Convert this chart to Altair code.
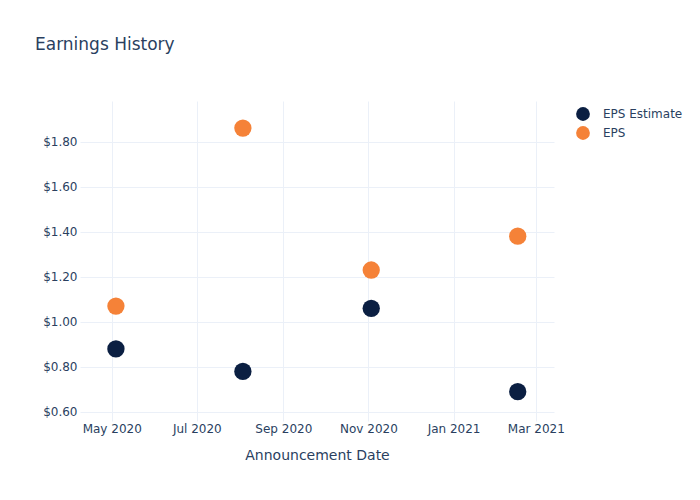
import altair as alt
import pandas as pd

dates = ["2020-05-04", "2020-08-03", "2020-11-03", "2021-02-16"]
eps_estimate = [0.88, 0.78, 1.06, 0.69]
eps_actual = [1.07, 1.86, 1.23, 1.38]
series_names = ["EPS Estimate", "EPS"]
series_colors = ["#0b1f42", "#f58238"]

rows = []
for d, v in zip(dates, eps_estimate):
    rows.append({"date": d, "value": v, "series": "EPS Estimate"})
for d, v in zip(dates, eps_actual):
    rows.append({"date": d, "value": v, "series": "EPS"})
df = pd.DataFrame(rows)

FONT = "DejaVu Sans"
TXT = "#2a3f5f"
GRID = "#ebf0f8"

x_ticks = [
    alt.DateTime(year=2020, month=5, date=1, utc=True),
    alt.DateTime(year=2020, month=7, date=1, utc=True),
    alt.DateTime(year=2020, month=9, date=1, utc=True),
    alt.DateTime(year=2020, month=11, date=1, utc=True),
    alt.DateTime(year=2021, month=1, date=1, utc=True),
    alt.DateTime(year=2021, month=3, date=1, utc=True),
]
y_ticks = [0.6, 0.8, 1.0, 1.2, 1.4, 1.6, 1.8]

chart = (
    alt.Chart(df)
    .mark_circle(size=300, opacity=1)
    .encode(
        x=alt.X(
            "date:T",
            title="Announcement Date",
            scale=alt.Scale(
                type="utc",
                domain=[
                    alt.DateTime(year=2020, month=4, date=8, hours=6, utc=True),
                    alt.DateTime(year=2021, month=3, date=14, utc=True),
                ],
            ),
            axis=alt.Axis(
                values=x_ticks,
                labelExpr="utcFormat(datum.value, '%b %Y')",
                labelPadding=2,
                titlePadding=14,
            ),
        ),
        y=alt.Y(
            "value:Q",
            title=None,
            scale=alt.Scale(domain=[0.56, 1.98], nice=False, zero=False),
            axis=alt.Axis(values=y_ticks, format="$.2f", labelPadding=3),
        ),
        color=alt.Color(
            "series:N",
            scale=alt.Scale(domain=series_names, range=series_colors),
            legend=alt.Legend(
                title=None,
                orient="none",
                legendX=495,
                legendY=5,
                symbolType="circle",
                symbolSize=190,
                symbolOpacity=1,
                labelFontSize=12,
                labelColor=TXT,
                labelFont=FONT,
                labelOffset=12,
                rowPadding=4,
                padding=0,
            ),
        ),
        order=alt.Order("series:N", sort="descending"),
    )
    .properties(
        width=474,
        height=320,
        autosize=alt.AutoSizeParams(type="none"),
        padding={"left": 80, "top": 101, "right": 146, "bottom": 79},
        title=alt.TitleParams(
            "Earnings History",
            anchor="start",
            frame="group",
            dx=-45,
            offset=34,
            baseline="alphabetic",
            fontSize=17,
            font=FONT,
            fontWeight="normal",
            color=TXT,
        ),
    )
    .configure_view(stroke=None)
    .configure_axis(
        domain=False,
        ticks=False,
        gridColor=GRID,
        gridWidth=1,
        labelFont=FONT,
        labelFontSize=12,
        labelColor=TXT,
        titleFont=FONT,
        titleFontSize=14,
        titleFontWeight="normal",
        titleColor=TXT,
    )
)

chart.save("out.html", embed_options={"renderer": "svg", "actions": False})
